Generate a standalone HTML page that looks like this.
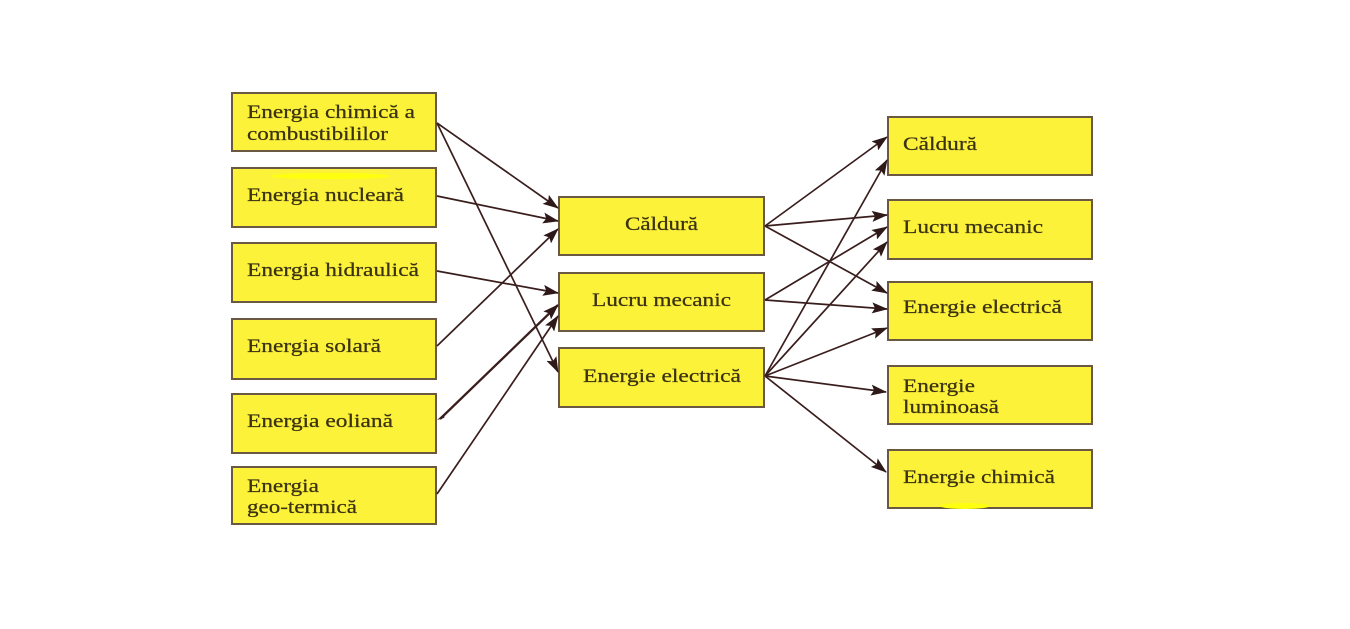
<!DOCTYPE html>
<html>
<head>
<meta charset="utf-8">
<style>
html,body{margin:0;padding:0;background:#ffffff;}
svg{display:block;}
text{font-family:"Liberation Serif","DejaVu Serif",serif;font-size:19px;fill:#3a3212;stroke:#3a3212;stroke-width:0.25;}
</style>
</head>
<body>
<svg width="1350" height="629" viewBox="0 0 1350 629" xmlns="http://www.w3.org/2000/svg">
<defs>
<marker id="ah" markerWidth="16" markerHeight="11" refX="15" refY="5.5" orient="auto" markerUnits="userSpaceOnUse">
<path d="M0,0 L16,5.5 L0,11 L3,5.5 Z" fill="#2e1818"/>
</marker>
</defs>
<rect width="1350" height="629" fill="#ffffff"/>

<!-- boxes -->
<g fill="#fcf23a" stroke="#6b5842" stroke-width="2">
<rect x="232" y="93" width="204" height="58"/>
<rect x="232" y="168" width="204" height="59"/>
<rect x="232" y="243" width="204" height="59"/>
<rect x="232" y="319" width="204" height="60"/>
<rect x="232" y="394" width="204" height="59"/>
<rect x="232" y="467" width="204" height="57"/>

<rect x="559" y="197" width="205" height="58"/>
<rect x="559" y="273" width="205" height="58"/>
<rect x="559" y="348" width="205" height="59"/>

<rect x="888" y="117" width="204" height="58"/>
<rect x="888" y="200" width="204" height="59"/>
<rect x="888" y="282" width="204" height="58"/>
<rect x="888" y="366" width="204" height="58"/>
<rect x="888" y="450" width="204" height="58"/>
</g>

<!-- yellow smudges -->
<ellipse cx="330" cy="176" rx="60" ry="3" fill="#ffff10"/>
<ellipse cx="965" cy="506" rx="25" ry="3" fill="#ffff10"/>

<!-- connectors -->
<g stroke="#3a1e1e" stroke-width="1.7" fill="none" marker-end="url(#ah)">
<line x1="437" y1="123" x2="558" y2="208"/>
<line x1="437" y1="123" x2="558" y2="372"/>
<line x1="437" y1="196" x2="558" y2="221"/>
<line x1="437" y1="271" x2="558" y2="293"/>
<line x1="437" y1="346" x2="558" y2="229"/>
<line x1="440" y1="419" x2="558" y2="305" stroke-width="2.3"/>
<line x1="437" y1="494" x2="558" y2="316"/>

<line x1="765" y1="226" x2="887" y2="137"/>
<line x1="765" y1="226" x2="887" y2="215"/>
<line x1="765" y1="226" x2="887" y2="293"/>
<line x1="765" y1="300" x2="887" y2="227"/>
<line x1="765" y1="300" x2="887" y2="309"/>
<line x1="765" y1="376" x2="887" y2="160"/>
<line x1="765" y1="376" x2="887" y2="242"/>
<line x1="765" y1="376" x2="887" y2="328"/>
<line x1="765" y1="376" x2="886" y2="392"/>
<line x1="765" y1="376" x2="886" y2="472"/>
</g>
<path d="M437,420 L446,412 L444,418 Z" fill="#3a1e1e"/>

<!-- labels -->
<text x="247" y="118" textLength="168" lengthAdjust="spacingAndGlyphs">Energia chimică a</text>
<text x="247" y="140" textLength="141" lengthAdjust="spacingAndGlyphs">combustibililor</text>
<text x="247" y="201" textLength="157" lengthAdjust="spacingAndGlyphs">Energia nucleară</text>
<text x="247" y="276" textLength="172" lengthAdjust="spacingAndGlyphs">Energia hidraulică</text>
<text x="247" y="352" textLength="134" lengthAdjust="spacingAndGlyphs">Energia solară</text>
<text x="247" y="427" textLength="146" lengthAdjust="spacingAndGlyphs">Energia eoliană</text>
<text x="247" y="492" textLength="72" lengthAdjust="spacingAndGlyphs">Energia</text>
<text x="247" y="513" textLength="110" lengthAdjust="spacingAndGlyphs">geo-termică</text>

<text x="625" y="230" textLength="73" lengthAdjust="spacingAndGlyphs">Căldură</text>
<text x="592" y="306" textLength="139" lengthAdjust="spacingAndGlyphs">Lucru mecanic</text>
<text x="583" y="382" textLength="158" lengthAdjust="spacingAndGlyphs">Energie electrică</text>

<text x="903" y="150" textLength="74" lengthAdjust="spacingAndGlyphs">Căldură</text>
<text x="903" y="233" textLength="140" lengthAdjust="spacingAndGlyphs">Lucru mecanic</text>
<text x="903" y="313" textLength="159" lengthAdjust="spacingAndGlyphs">Energie electrică</text>
<text x="903" y="392" textLength="72" lengthAdjust="spacingAndGlyphs">Energie</text>
<text x="903" y="413" textLength="96" lengthAdjust="spacingAndGlyphs">luminoasă</text>
<text x="903" y="483" textLength="152" lengthAdjust="spacingAndGlyphs">Energie chimică</text>
</svg>
</body>
</html>
